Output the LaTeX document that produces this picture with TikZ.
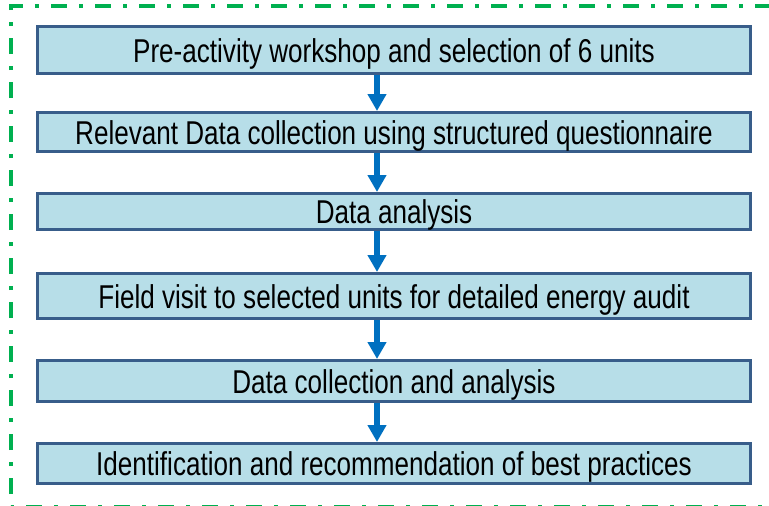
\documentclass[tikz,border=0pt]{standalone}
\usepackage{fontspec}
\setmainfont{Liberation Sans}[FakeStretch=0.79]
\usetikzlibrary{arrows.meta}

\definecolor{framegreen}{RGB}{0,176,80}
\definecolor{boxfill}{RGB}{183,222,232}
\definecolor{boxline}{RGB}{56,93,138}
\definecolor{arrowblue}{RGB}{0,112,192}

\tikzset{
  stage/.style={draw=boxline, line width=3pt, fill=boxfill, minimum width=713pt,
    inner sep=0pt, text height=24pt, text depth=0pt,
    font=\fontsize{33}{38}\selectfont},
  flow/.style={arrowblue, line width=6pt, -{Triangle[width=18pt,length=17pt]}}
}

\begin{document}
\begin{tikzpicture}[x=1pt,y=-1pt]

    \useasboundingbox (0,0) rectangle (769,506);
    \draw [framegreen, line width=3.5pt, dash pattern=on 16pt off 12pt on 4pt off 12pt,
      dash phase=34pt] (800,507) -- (11,507) -- (11,6) -- (800,6);

    \node [stage, minimum height=47pt] (select) at (394, 50) {Pre-activity workshop and selection of 6 units};
    \node [stage, minimum height=39pt] (survey) at (394, 132) {Relevant Data collection using structured questionnaire};
    \node [stage, minimum height=36pt] (analysis) at (394, 211.5) {Data analysis};
    \node [stage, minimum height=45pt] (audit) at (394, 296) {Field visit to selected units for detailed energy audit};
    \node [stage, minimum height=41pt] (collect) at (394, 381) {Data collection and analysis};
    \node [stage, minimum height=40pt] (practice) at (394, 463.5) {Identification and recommendation of best practices};

    \coordinate (spine) at (377, 0);

    \draw [flow] (select.south -| spine) -- (survey.north -| spine);
    \draw [flow] (survey.south -| spine) -- (analysis.north -| spine);
    \draw [flow] (analysis.south -| spine) -- (audit.north -| spine);
    \draw [flow] (audit.south -| spine) -- (collect.north -| spine);
    \draw [flow] (collect.south -| spine) -- (practice.north -| spine);

\end{tikzpicture}
\end{document}
